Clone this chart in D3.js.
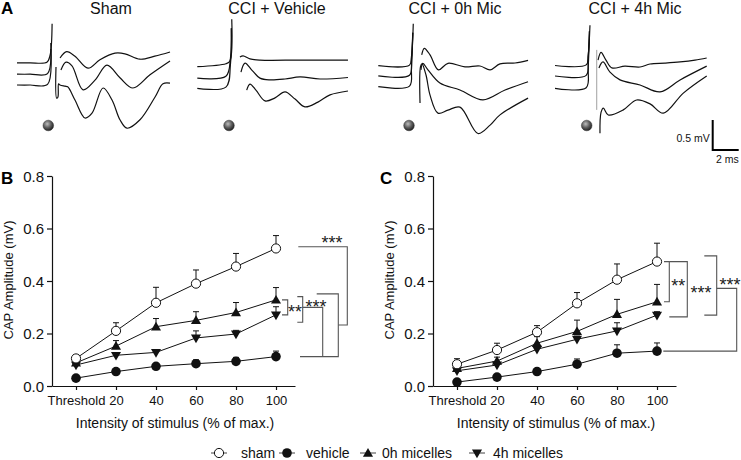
<!DOCTYPE html>
<html><head><meta charset="utf-8">
<script src="https://cdn.jsdelivr.net/npm/d3@7"></script>
<style>
body{margin:0;background:#fff}
svg text{font-family:"Liberation Sans",Arial,Helvetica,sans-serif;fill:#111}
</style>
</head><body>
<svg id="chart" width="741" height="460"></svg>
<script>
// ---------------- DATA ----------------
const categories = ["Threshold", "20", "40", "60", "80", "100"];
const seriesNames = ["sham", "vehicle", "0h micelles", "4h micelles"];
const yTicks = [0.0, 0.2, 0.4, 0.6, 0.8];
const traceTitles = ["Sham", "CCI + Vehicle", "CCI + 0h Mic", "CCI + 4h Mic"];

// Panel B (means and SEM, mV)
const bSham    = [0.105, 0.210, 0.317, 0.390, 0.455, 0.524];
const bShamSem = [0.013, 0.031, 0.059, 0.052, 0.050, 0.049];
const bVeh     = [0.030, 0.055, 0.075, 0.085, 0.094, 0.112];
const bVehSem  = [0.006, 0.006, 0.010, 0.015, 0.015, 0.021];
const b0h      = [0.088, 0.152, 0.226, 0.250, 0.280, 0.328];
const b0hSem   = [0.010, 0.021, 0.031, 0.033, 0.038, 0.047];
const b4h      = [0.080, 0.117, 0.128, 0.183, 0.198, 0.271];
const b4hSem   = [0.008, 0.009, 0.009, 0.027, 0.014, 0.031];

// Panel C
const cSham    = [0.083, 0.137, 0.205, 0.315, 0.405, 0.474];
const cShamSem = [0.021, 0.026, 0.025, 0.041, 0.060, 0.070];
const cVeh     = [0.015, 0.034, 0.055, 0.083, 0.125, 0.133];
const cVehSem  = [0.005, 0.006, 0.012, 0.020, 0.032, 0.031];
const c0h      = [0.067, 0.095, 0.163, 0.208, 0.273, 0.321];
const c0hSem   = [0.008, 0.015, 0.025, 0.043, 0.057, 0.066];
const c4h      = [0.058, 0.080, 0.140, 0.178, 0.210, 0.270];
const c4hSem   = [0.007, 0.010, 0.015, 0.012, 0.031, 0.013];

// Panel A traces: [time ms, voltage mV]; each trace = [pre-artifact segment, post segment]
const shamTop = [[[0,0.37],[1,0.37],[2.3,0.38],[2.55,0.5],[2.7,1.02]],
  [[3.31,0.45],[3.82,0.555],[4.46,0.48],[5.46,0.28],[6.38,0.42],[7.54,0.53],[8.3,0.52],[9.46,0.43],[10.6,0.48],[11.77,0.55]]];
const shamMid = [[[0,0.18],[1,0.18],[2.35,0.19],[2.6,0.7]],
  [[3.38,0.25],[3.77,0.38],[4.23,0.32],[5.08,-0.08],[6,0.08],[6.92,0.33],[7.92,0.12],[8.92,-0.05],[10.23,0.17],[11.77,0.4]]];
const shamBot = [[[0,0],[1,0.0],[2.35,0.01],[2.6,0.6]],
  [[3.0,0.3],[3.05,-0.22],[3.15,-0.2],[3.2,0.02],[3.31,0.0],[3.69,-0.02],[3.9,-0.03],[4.46,-0.25],[5.23,-0.55],[5.77,-0.47],[6.62,-0.05],[7.31,-0.25],[7.92,-0.58],[8.46,-0.72],[9.46,-0.58],[10.62,-0.2],[11.23,0.02],[11.77,0.03]]];

const vehTop = [[[0,0.36],[2.2,0.41],[2.5,0.45],[2.65,1.15]],
  [[3.28,0.52],[3.52,0.54],[4.05,0.49],[4.82,0.47],[7.9,0.47],[11.59,0.47]]];
const vehMid = [[[0,0.17],[2.2,0.2],[2.55,0.5],[2.62,1.0]],
  [[3.36,0.27],[3.67,0.42],[4.21,0.3],[4.82,0.17],[5.59,0.14],[6.75,0.155],[7.9,0.19],[9.44,0.155],[11.59,0.18]]];
const vehBot = [[[0,0],[2.2,0.02],[2.55,0.4],[2.62,1.0]],
  [[3.8,-0.03],[4.05,0.07],[4.51,-0.03],[5.21,-0.21],[5.98,-0.16],[6.75,-0.06],[7.52,-0.18],[8.28,-0.31],[9.28,-0.23],[10.21,-0.11],[11.59,-0.045]]];

const mic0Top = [[[0,0.35],[2.4,0.36],[2.55,0.5],[2.69,1.05]],
  [[3.34,0.53],[3.54,0.64],[3.98,0.53],[4.62,0.28],[5.36,0.39],[6.67,0.33],[7.82,0.345],[8.6,0.28],[9.36,0.38],[10.52,0.395],[11.52,0.44]]];
const mic0Mid = [[[0,0.18],[2.4,0.19],[2.55,0.45],[2.65,0.9]],
  [[3.28,0.28],[3.42,0.39],[3.82,0.28],[4.74,0.06],[6.28,-0.055],[8.05,-0.22],[9.75,-0.055],[11.52,0.083]]];
const mic0Bot = [[[0,0],[2.4,0.01],[2.55,0.3],[2.65,0.9]],
  [[3.21,-0.27],[3.25,0.34],[3.36,0.38],[3.67,0.195],[3.98,-0.14],[4.59,-0.44],[5.36,-0.39],[6.28,-0.34],[7.67,-0.78],[8.6,-0.64],[9.36,-0.47],[11.52,-0.19]]];

const mic4Top = [[[0,0.38],[2.4,0.39],[2.55,0.55],[2.69,1.05]],
  [[3.31,0.47],[3.54,0.6],[3.92,0.47],[4.38,0.34],[5.38,0.37],[6.54,0.355],[7.31,0.405],[8.46,0.42],[9.62,0.44],[10.77,0.47],[11.67,0.505]]];
const mic4Mid = [[[0,0.205],[2.4,0.215],[2.55,0.5],[2.65,0.95]],
  [[3.38,0.34],[3.69,0.44],[4.23,0.27],[5,0.14],[6.54,0.055],[8.08,-0.06],[9.62,0.14],[11.67,0.37]]];
const mic4Bot = [[[0,0],[2.4,0.01],[2.55,0.35],[2.65,0.95]],
  [[3.46,-0.75],[3.54,-0.4],[3.72,-0.33],[4.1,-0.445],[5.25,-0.36],[6.28,-0.195],[7.31,-0.26],[8.33,-0.415],[9.87,-0.08],[11.67,0.205]]];
const mic4Artifact = [[3.21,0.64],[3.21,-0.36]];

const scaleBarMv = 0.5, scaleBarMs = 2;

// ---------------- DRAW ----------------
const svg = d3.select("#chart");
svg.append("rect").attr("width",741).attr("height",460).attr("fill","#fff");

const defs = svg.append("defs");
const grad = defs.append("radialGradient").attr("id","ball").attr("cx","40%").attr("cy","35%").attr("r","65%");
grad.append("stop").attr("offset","0%").attr("stop-color","#bdbdbd");
grad.append("stop").attr("offset","55%").attr("stop-color","#5e5e5e");
grad.append("stop").attr("offset","100%").attr("stop-color","#222");

// Panel letters
const letter = (t,x,y)=>svg.append("text").attr("x",x).attr("y",y).text(t)
  .style("font-size","17px").style("font-weight","bold").style("fill","#000");
letter("A",1,14); letter("B",1,184); letter("C",380,184);

// ---- Panel A ----
const tracePanels = [
  {title:traceTitles[0], traces:[shamTop,shamMid,shamBot], x0:17,    yb:85,   dotX:48.3,  titleX:111},
  {title:traceTitles[1], traces:[vehTop,vehMid,vehBot],    x0:197.3, yb:88.3, dotX:229,   titleX:277},
  {title:traceTitles[2], traces:[mic0Top,mic0Mid,mic0Bot], x0:378.3, yb:86.7, dotX:409,   titleX:455},
  {title:traceTitles[3], traces:[mic4Top,mic4Mid,mic4Bot], x0:555,   yb:88.3, dotX:586.7, titleX:635, artifact:mic4Artifact}
];
tracePanels.forEach(p=>{
  const xs = d3.scaleLinear().domain([0,1]).range([p.x0, p.x0+13]);
  const ys = d3.scaleLinear().domain([0,1]).range([p.yb, p.yb-60]);
  const line = d3.line().x(d=>xs(d[0])).y(d=>ys(d[1])).curve(d3.curveCatmullRom.alpha(0.5));
  const g = svg.append("g");
  p.traces.forEach(tr=>tr.forEach(seg=>{
    g.append("path").attr("d",line(seg)).attr("fill","none").attr("stroke","#111").attr("stroke-width",1.2);
  }));
  if(p.artifact){
    g.append("path").attr("d",d3.line().x(d=>xs(d[0])).y(d=>ys(d[1]))(p.artifact))
      .attr("fill","none").attr("stroke","#888").attr("stroke-width",0.8);
  }
  svg.append("text").attr("x",p.titleX).attr("y",14).attr("text-anchor","middle")
    .style("font-size","16px").text(p.title);
  svg.append("circle").attr("cx",p.dotX).attr("cy",125.5).attr("r",5.3).attr("fill","url(#ball)")
    .attr("stroke","#333").attr("stroke-width",0.5);
});

// scale bar
{
  const sx = d3.scaleLinear().domain([0,1]).range([0,13]);
  const sy = d3.scaleLinear().domain([0,1]).range([0,60]);
  const bx = 712.7, by = 150;
  svg.append("path").attr("d",`M${bx},${by-sy(scaleBarMv)}V${by}H${bx+sx(scaleBarMs)}`)
    .attr("fill","none").attr("stroke","#000").attr("stroke-width",2);
  svg.append("text").attr("x",bx-3).attr("y",by-8).attr("text-anchor","end").style("font-size","10.5px").text(scaleBarMv+" mV");
  svg.append("text").attr("x",bx+sx(scaleBarMs)).attr("y",by+13).attr("text-anchor","end").style("font-size","10.5px").text(scaleBarMs+" ms");
}

// ---- Panels B and C ----
function drawMarker(g, type, x, y){
  if(type==="sham") g.append("circle").attr("cx",x).attr("cy",y).attr("r",4.6).attr("fill","#fff").attr("stroke","#111").attr("stroke-width",1);
  else if(type==="vehicle") g.append("circle").attr("cx",x).attr("cy",y).attr("r",4.8).attr("fill","#111");
  else {
    const s = d3.symbol().type(d3.symbolTriangle).size(44)();
    g.append("path").attr("d",s).attr("transform",`translate(${x},${y + (type==="4h"?-0.5:0.8)}) rotate(${type==="4h"?180:0})`).attr("fill","#111");
  }
}

function drawChart(ox, series){
  const g = svg.append("g");
  const x = d3.scaleLinear().domain([-0.6, 5.475]).range([ox, ox+243]);
  const y = d3.scaleLinear().domain([0,0.8]).range([386,176]);
  const xa = g.append("g").attr("transform","translate(0,386)")
    .call(d3.axisBottom(x).tickValues(d3.range(categories.length)).tickFormat(i=>categories[i]).tickSize(4).tickSizeOuter(0));
  xa.selectAll("text").style("font-size","13px").attr("dy","0.95em").style("fill","#111");
  const ya = g.append("g").attr("transform",`translate(${ox},0)`)
    .call(d3.axisLeft(y).tickValues(yTicks).tickFormat(d3.format(".1f")).tickSize(5).tickSizeOuter(0));
  ya.selectAll("text").style("font-size","15px").attr("dy","0.36em").style("fill","#111");
  g.selectAll(".domain, .tick line").attr("stroke","#111").attr("stroke-width",1.2);

  g.append("text").attr("transform",`translate(${ox-39},280) rotate(-90)`).attr("text-anchor","middle")
    .style("font-size","13px").text("CAP Amplitude (mV)");
  g.append("text").attr("x",ox+123).attr("y",428).attr("text-anchor","middle")
    .style("font-size","14px").text("Intensity of stimulus (% of max.)");

  const ln = d3.line().x((d,i)=>x(i)).y(d=>y(d));
  series.forEach(s=>{
    g.append("path").attr("d",ln(s.mean)).attr("fill","none").attr("stroke","#111").attr("stroke-width",1);
  });
  series.forEach(s=>{
    s.mean.forEach((m,i)=>{
      const top = y(m + s.sem[i]);
      g.append("path").attr("d",`M${x(i)},${y(m)}V${top}M${x(i)-3},${top}H${x(i)+3}`)
        .attr("stroke","#111").attr("stroke-width",1).attr("fill","none");
    });
  });
  series.forEach(s=>s.mean.forEach((m,i)=>drawMarker(g, s.type, x(i), y(m))));
  return {g,x,y};
}

const B = drawChart(52, [
  {type:"vehicle", mean:bVeh, sem:bVehSem},
  {type:"4h", mean:b4h, sem:b4hSem},
  {type:"0h", mean:b0h, sem:b0hSem},
  {type:"sham", mean:bSham, sem:bShamSem}
]);
const C = drawChart(433, [
  {type:"vehicle", mean:cVeh, sem:cVehSem},
  {type:"4h", mean:c4h, sem:c4hSem},
  {type:"0h", mean:c0h, sem:c0hSem},
  {type:"sham", mean:cSham, sem:cShamSem}
]);

// significance brackets
const bc = "#555";
function path(g,d){ g.append("path").attr("d",d).attr("fill","none").attr("stroke",bc).attr("stroke-width",1.1); }
function stars(g,t,x,yc){ g.append("text").attr("x",x).attr("y",yc+10.5).style("font-size","18px").style("fill","#222").text(t); }
{
  const g = B.g, y = B.y, L = 5;
  const y0h = y(b0h[L]), y4h = y(b4h[L]), yV = y(bVeh[L]), yS = y(bSham[L]);
  path(g,`M282,${y0h}H287.7V${y4h}H282`);
  stars(g,"**",288,(y0h+y4h)/2);
  path(g,`M297.3,${y0h-3.3}H302.7V${y4h+7.4}H297.3`);
  path(g,`M302.7,${(y0h+y4h)/2}H322.7V${yV}`);
  path(g,`M300,${yV}H338.3V${y0h-6}H316.7`);
  stars(g,"***",305.5,y0h+2.5);
  path(g,`M298.3,${yS-1.7}H347.3V325H338.3`);
  stars(g,"***",321.5,yS-9.7);
}
{
  const g = C.g, y = C.y, L = 5;
  const yS = y(cSham[L]), y0 = y(c0h[L]), y4 = y(c4h[L]), yV = y(cVeh[L]);
  path(g,`M664,${yS}H669.3V${y0}H664`);
  stars(g,"**",671.3,(yS+y0)/2);
  path(g,`M669.3,${yS}H687.3V${y4+1.7}H669.3`);
  stars(g,"***",690.5,(yS+y4)/2);
  path(g,`M704.3,${yS-5.7}H716.7V${y4}H704.3`);
  path(g,`M716.7,${(yS+y4)/2}H736.7V${yV}H663.3`);
  stars(g,"***",719.5,(yS+y4)/2-7.4);
}

// legend
{
  const g = svg.append("g");
  const ly = 453;
  const items = [
    {type:"sham", name:seriesNames[0], mx:219, tx:241},
    {type:"vehicle", name:seriesNames[1], mx:287, tx:306},
    {type:"0h", name:seriesNames[2], mx:368, tx:382},
    {type:"4h", name:seriesNames[3], mx:477, tx:493}
  ];
  items.forEach(it=>{
    g.append("line").attr("x1",it.mx-8).attr("x2",it.mx+8).attr("y1",ly).attr("y2",ly).attr("stroke","#444").attr("stroke-width",1);
    drawMarker(g,it.type,it.mx,ly);
    g.append("text").attr("x",it.tx).attr("y",ly+5).style("font-size","14px").text(it.name);
  });
}
</script>
</body></html>
